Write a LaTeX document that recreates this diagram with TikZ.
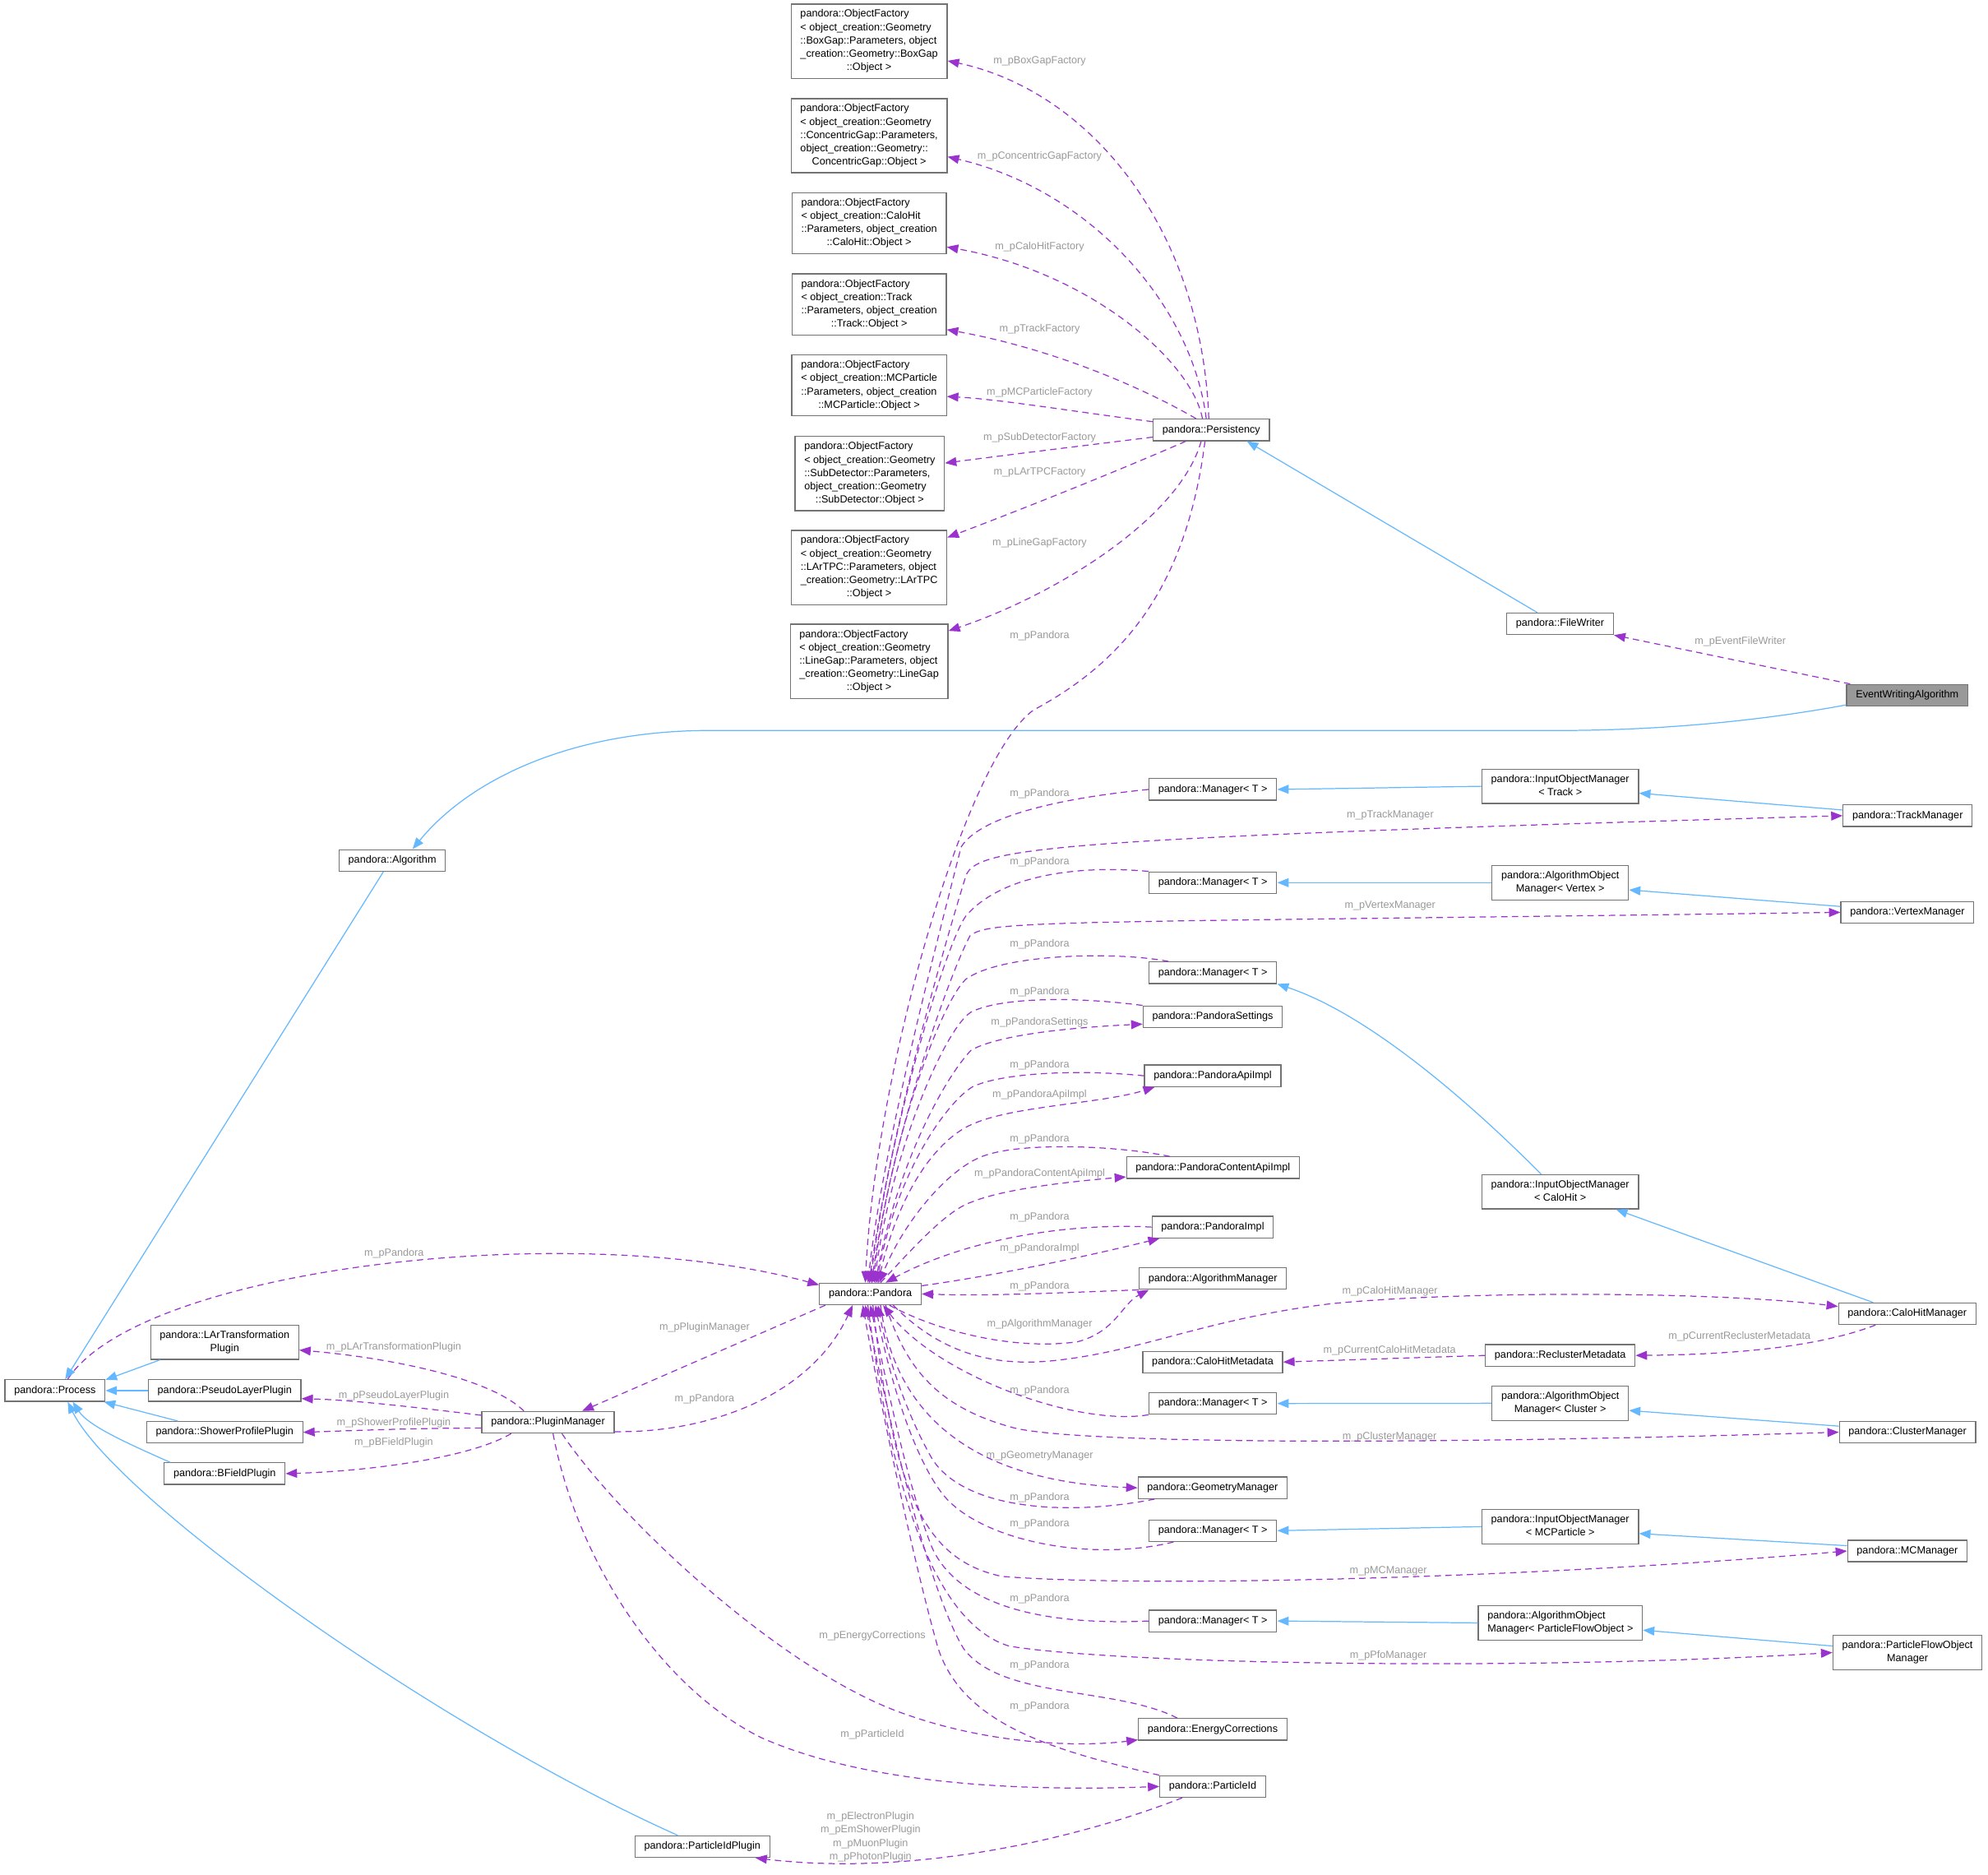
\documentclass[tikz,border=0pt]{standalone}
\usepackage{fontspec}
\setmainfont{Liberation Sans}
\usetikzlibrary{arrows.meta}
\definecolor{memb}{HTML}{9A32CD}
\definecolor{inhr}{HTML}{63B8FF}
\newcommand{\ml}[2]{\begin{tabular}{@{}l@{}}#1\\\multicolumn{1}{@{}c@{}}{#2}\end{tabular}}

\begin{document}
\begin{tikzpicture}[x=1pt,y=-1pt,
    cls/.style={draw=black!55,fill=white,line width=.8pt,font=\fontsize{8.2}{10.5}\selectfont,inner xsep=7.3pt,inner ysep=3pt,minimum height=17pt},
    cur/.style={cls,fill=black!40},
    lbl/.style={font=\fontsize{8.2}{10.5}\selectfont,text=black!40,inner sep=0pt},
    dep/.style={memb,line width=.8pt,dash pattern=on 5pt off 3.5pt,-{Triangle[length=9pt,width=7pt]}},
    inh/.style={inhr,line width=.8pt,-{Triangle[length=9pt,width=7pt]}}]
    \useasboundingbox (0,0) rectangle (1568,1478);

    \node[cls] (fBox)   at (685.5,32.5)  {\ml{pandora::ObjectFactory\\< object\_creation::Geometry\\::BoxGap::Parameters, object\\\_creation::Geometry::BoxGap}{::Object >}};
    \node[cls] (fConc)  at (685.5,107)   {\ml{pandora::ObjectFactory\\< object\_creation::Geometry\\::ConcentricGap::Parameters,\\object\_creation::Geometry::}{ConcentricGap::Object >}};
    \node[cls] (fCalo)  at (685.5,176)   {\ml{pandora::ObjectFactory\\< object\_creation::CaloHit\\::Parameters, object\_creation}{::CaloHit::Object >}};
    \node[cls] (fTrack) at (685.5,240)   {\ml{pandora::ObjectFactory\\< object\_creation::Track\\::Parameters, object\_creation}{::Track::Object >}};
    \node[cls] (fMC)    at (685.5,304)   {\ml{pandora::ObjectFactory\\< object\_creation::MCParticle\\::Parameters, object\_creation}{::MCParticle::Object >}};
    \node[cls] (fSub)   at (686,373.5)   {\ml{pandora::ObjectFactory\\< object\_creation::Geometry\\::SubDetector::Parameters,\\object\_creation::Geometry}{::SubDetector::Object >}};
    \node[cls] (fLAr)   at (685.5,447.5) {\ml{pandora::ObjectFactory\\< object\_creation::Geometry\\::LArTPC::Parameters, object\\\_creation::Geometry::LArTPC}{::Object >}};
    \node[cls] (fLine)  at (685.5,521.5) {\ml{pandora::ObjectFactory\\< object\_creation::Geometry\\::LineGap::Parameters, object\\\_creation::Geometry::LineGap}{::Object >}};

    \node[cls] (pers)   at (955.4,339)    {pandora::Persistency};
    \node[cls] (fw)     at (1230.5,491.9) {pandora::FileWriter};
    \node[cur] (ewa)    at (1504.3,548.2) {EventWritingAlgorithm};
    \node[cls] (alg)    at (309.4,678.5)  {pandora::Algorithm};
    \node[cls] (proc)   at (43.4,1096.5)  {pandora::Process};

    \node[cls] (m1)     at (956.6,622.5)  {pandora::Manager< T >};
    \node[cls] (iomT)   at (1230.6,620)   {\ml{pandora::InputObjectManager}{< Track >}};
    \node[cls] (tm)     at (1504.6,643.2) {pandora::TrackManager};
    \node[cls] (m2)     at (956.6,696)    {pandora::Manager< T >};
    \node[cls] (aomV)   at (1230.6,696)   {\ml{pandora::AlgorithmObject}{Manager< Vertex >}};
    \node[cls] (vm)     at (1504.4,719.4) {pandora::VertexManager};
    \node[cls] (m3)     at (956.6,767)    {pandora::Manager< T >};
    \node[cls] (ps)     at (956.5,801.7)  {pandora::PandoraSettings};
    \node[cls] (pai)    at (956.5,848.3)  {pandora::PandoraApiImpl};
    \node[cls] (pcai)   at (956.7,920.8)  {pandora::PandoraContentApiImpl};
    \node[cls] (pimpl)  at (956.5,967.6)  {pandora::PandoraImpl};
    \node[cls] (am)     at (956.6,1008.2) {pandora::AlgorithmManager};
    \node[cls] (pan)    at (686.5,1020.3) {pandora::Pandora};
    \node[cls] (iomC)   at (1230.6,939.8) {\ml{pandora::InputObjectManager}{< CaloHit >}};
    \node[cls] (chm)    at (1504.3,1035.9) {pandora::CaloHitManager};
    \node[cls] (chmeta) at (956.5,1074)   {pandora::CaloHitMetadata};
    \node[cls] (rm)     at (1230.6,1068.8) {pandora::ReclusterMetadata};
    \node[cls] (m4)     at (956.6,1106.7) {pandora::Manager< T >};
    \node[cls] (aomCl)  at (1230.6,1106.5) {\ml{pandora::AlgorithmObject}{Manager< Cluster >}};
    \node[cls] (clm)    at (1504.5,1129.3) {pandora::ClusterManager};
    \node[cls] (gm)     at (956.4,1173.2) {pandora::GeometryManager};
    \node[cls] (m5)     at (956.6,1207)   {pandora::Manager< T >};
    \node[cls] (iomM)   at (1230.6,1203.8) {\ml{pandora::InputObjectManager}{< MCParticle >}};
    \node[cls] (mcm)    at (1504.4,1223)  {pandora::MCManager};
    \node[cls] (m6)     at (956.6,1278.2) {pandora::Manager< T >};
    \node[cls] (aomP)   at (1230.7,1279.7) {\ml{pandora::AlgorithmObject}{Manager< ParticleFlowObject >}};
    \node[cls] (pfo)    at (1504.5,1303.1) {\ml{pandora::ParticleFlowObject}{Manager}};
    \node[cls] (ec)     at (956.5,1363.6) {pandora::EnergyCorrections};
    \node[cls] (pid)    at (956.5,1408.7) {pandora::ParticleId};
    \node[cls] (pm)     at (432.2,1121.5) {pandora::PluginManager};
    \node[cls] (lart)   at (177.2,1058.4) {\ml{pandora::LArTransformation}{Plugin}};
    \node[cls] (pseudo) at (177.2,1096.5) {pandora::PseudoLayerPlugin};
    \node[cls] (shower) at (177.2,1129.4) {pandora::ShowerProfilePlugin};
    \node[cls] (bfield) at (177.2,1162)   {pandora::BFieldPlugin};
    \node[cls] (pip)    at (554,1456.1)   {pandora::ParticleIdPlugin};

    \node[lbl] (lBoxGap)  at (820,48)      {m\_pBoxGapFactory};
    \node[lbl] (lConcGap) at (820,123.4)   {m\_pConcentricGapFactory};
    \node[lbl] (lCaloF)   at (820,195)     {m\_pCaloHitFactory};
    \node[lbl] (lTrackF)  at (820,259.7)   {m\_pTrackFactory};
    \node[lbl] (lMCF)     at (820,309.7)   {m\_pMCParticleFactory};
    \node[lbl] (lSubF)    at (820,345.4)   {m\_pSubDetectorFactory};
    \node[lbl] (lLArF)    at (820,372.4)   {m\_pLArTPCFactory};
    \node[lbl] (lLineF)   at (820,428.4)   {m\_pLineGapFactory};
    \node[lbl] (lPers)    at (820,501.4)   {m\_pPandora};
    \node[lbl] (lEFW)     at (1372.6,506.1) {m\_pEventFileWriter};
    \node[lbl] (lPanA)    at (820,625.6)   {m\_pPandora};
    \node[lbl] (lTM)      at (1096.5,642.5) {m\_pTrackManager};
    \node[lbl] (lPanB)    at (820,679.8)   {m\_pPandora};
    \node[lbl] (lVM)      at (1096.4,714.5) {m\_pVertexManager};
    \node[lbl] (lPanC)    at (820,744.9)   {m\_pPandora};
    \node[lbl] (lPanD)    at (820,782.5)   {m\_pPandora};
    \node[lbl] (lPS)      at (820,806)     {m\_pPandoraSettings};
    \node[lbl] (lPanE)    at (820,839.7)   {m\_pPandora};
    \node[lbl] (lPAI)     at (820,863)     {m\_pPandoraApiImpl};
    \node[lbl] (lPanF)    at (820,898.3)   {m\_pPandora};
    \node[lbl] (lPCAI)    at (820,925.3)   {m\_pPandoraContentApiImpl};
    \node[lbl] (lPanG)    at (820,960)     {m\_pPandora};
    \node[lbl] (lPI)      at (820,984.3)   {m\_pPandoraImpl};
    \node[lbl] (lPanH)    at (820,1014.6)  {m\_pPandora};
    \node[lbl] (lAM)      at (820,1044.4)  {m\_pAlgorithmManager};
    \node[lbl] (lCHM)     at (1096.3,1018) {m\_pCaloHitManager};
    \node[lbl] (lCCHM)    at (1096,1065.2) {m\_pCurrentCaloHitMetadata};
    \node[lbl] (lCRM)     at (1372,1053.7) {m\_pCurrentReclusterMetadata};
    \node[lbl] (lPanI)    at (820,1096.5)  {m\_pPandora};
    \node[lbl] (lCM)      at (1096,1133)   {m\_pClusterManager};
    \node[lbl] (lGM)      at (820,1148.2)  {m\_pGeometryManager};
    \node[lbl] (lPanJ)    at (820,1180.7)  {m\_pPandora};
    \node[lbl] (lPanK)    at (820,1201.5)  {m\_pPandora};
    \node[lbl] (lMCM)     at (1095,1239)   {m\_pMCManager};
    \node[lbl] (lPanL)    at (820,1261)    {m\_pPandora};
    \node[lbl] (lPfo)     at (1095,1305.5) {m\_pPfoManager};
    \node[lbl] (lEC)      at (688,1289.7)  {m\_pEnergyCorrections};
    \node[lbl] (lPanM)    at (820,1313.2)  {m\_pPandora};
    \node[lbl] (lPanN)    at (820,1345.7)  {m\_pPandora};
    \node[lbl] (lPID)     at (688,1367.5)  {m\_pParticleId};
    \node[lbl,align=center] (lPlugins) at (686.6,1448.5) {m\_pElectronPlugin\\m\_pEmShowerPlugin\\m\_pMuonPlugin\\m\_pPhotonPlugin};
    \node[lbl] (lProcPan) at (310.8,988.6)  {m\_pPandora};
    \node[lbl] (lLArT)    at (310.6,1062.5) {m\_pLArTransformationPlugin};
    \node[lbl] (lPseudo)  at (310.6,1100.4) {m\_pPseudoLayerPlugin};
    \node[lbl] (lShower)  at (310.6,1122)   {m\_pShowerProfilePlugin};
    \node[lbl] (lBField)  at (310.6,1137.5) {m\_pBFieldPlugin};
    \node[lbl] (lPM)      at (555.7,1047)   {m\_pPluginManager};
    \node[lbl] (lPMPan)   at (555.7,1103.2) {m\_pPandora};

    \draw[dep] ([xshift=-2]pers.north) .. controls (948,180) and (860,72) .. (fBox.-14);
    \draw[dep] ([xshift=-4]pers.north) .. controls (940,240) and (860,150) .. (fConc.-15);
    \draw[dep] ([xshift=-7]pers.north) .. controls (940,285) and (860,215) .. (fCalo.-17);
    \draw[dep] ([xshift=-12]pers.north) .. controls (900,305) and (830,275) .. (fTrack.-18);
    \draw[dep] (pers.172) .. controls (850,325) and (790,315) .. (fMC.-8);
    \draw[dep] (pers.187) .. controls (850,352) and (800,358) .. (fSub.8);
    \draw[dep] ([xshift=-20]pers.south) .. controls (880,372) and (810,400) .. (fLAr.21);
    \draw[dep] ([xshift=-8]pers.south) .. controls (930,410) and (830,470) .. (fLine.21);
    \draw[dep] ([xshift=-5]pers.south) .. controls (935,470) and (880,525) .. (815,560) .. controls (760,600) and (690,850) .. ([xshift=-4]pan.north);
    \draw[dep] ([xshift=-45]ewa.north) -- (fw.south east);

    \draw[dep] (m1.west) .. controls (830,630) and (772,645) .. (758,668) .. controls (740,740) and (697,900) .. ([xshift=-2]pan.north);
    \draw[dep] ([xshift=-1]pan.north) .. controls (700,900) and (745,745) .. (762,690) .. controls (772,668) and (830,661) .. (tm.west);
    \draw[dep] (m2.north west) .. controls (850,682) and (790,690) .. (762,722) .. controls (745,745) and (700,900) .. (pan.north);
    \draw[dep] ([xshift=1]pan.north) .. controls (702,900) and (748,770) .. (765,738) .. controls (780,725) and (830,728) .. (vm.west);
    \draw[dep] ([xshift=-35]m3.north) .. controls (880,750) and (790,752) .. (762,772) .. controls (742,790) and (702,900) .. ([xshift=2]pan.north);
    \draw[dep] (ps.north west) .. controls (850,786) and (790,786) .. (766,798) .. controls (746,810) and (704,905) .. ([xshift=3]pan.north);
    \draw[dep] ([xshift=4]pan.north) .. controls (706,920) and (745,850) .. (766,828) .. controls (790,815) and (850,810) .. (ps.186);
    \draw[dep] (pai.west) .. controls (850,843) and (790,846) .. (767,857) .. controls (746,870) and (707,925) .. ([xshift=5]pan.north);
    \draw[dep] ([xshift=6]pan.north) .. controls (710,930) and (745,895) .. (768,886) .. controls (800,872) and (870,870) .. (pai.191);
    \draw[dep] ([xshift=-34]pcai.north) .. controls (880,903) and (800,900) .. (772,913) .. controls (745,925) and (712,965) .. ([xshift=7]pan.north);
    \draw[dep] ([xshift=8]pan.north) .. controls (715,990) and (745,955) .. (766,948) .. controls (790,938) and (840,932) .. (pcai.186);
    \draw[dep] (pimpl.west) .. controls (840,964) and (760,978) .. ([xshift=12]pan.north);
    \draw[dep] (pan.9) .. controls (790,1005) and (860,990) .. (pimpl.192);
    \draw[dep] (am.south west) .. controls (820,1020) and (780,1022) .. (pan.east);
    \draw[dep] ([xshift=15]pan.south) .. controls (740,1050) and (800,1065) .. (850,1058) .. controls (880,1050) and (885,1028) .. (am.190);
    \draw[dep] ([xshift=18]pan.south) .. controls (740,1065) and (780,1078) .. (830,1073) .. controls (900,1066) and (950,1040) .. (1050,1028) .. controls (1150,1018) and (1350,1018) .. (chm.174);
    \draw[dep] (rm.west) -- (chmeta.east);
    \draw[dep] ([xshift=-25]chm.south) .. controls (1440,1060) and (1380,1068) .. (rm.east);
    \draw[dep] (m4.south west) .. controls (850,1125) and (740,1085) .. ([xshift=10]pan.south);
    \draw[dep] ([xshift=12]pan.south) .. controls (715,1080) and (740,1110) .. (800,1126) .. controls (850,1138) and (1100,1140) .. (clm.west);
    \draw[dep] ([xshift=8]pan.south) .. controls (705,1110) and (760,1168) .. (gm.west);
    \draw[dep] (gm.191) .. controls (840,1196) and (760,1190) .. (735,1150) .. controls (715,1115) and (700,1070) .. ([xshift=6]pan.south);
    \draw[dep] ([xshift=-31]m5.south) .. controls (860,1232) and (775,1215) .. (745,1180) .. controls (720,1150) and (700,1080) .. ([xshift=4]pan.south);
    \draw[dep] ([xshift=2]pan.south) .. controls (705,1180) and (730,1230) .. (790,1243) .. controls (900,1252) and (1200,1245) .. (mcm.west);
    \draw[dep] (m6.west) .. controls (820,1282) and (755,1265) .. (735,1220) .. controls (715,1170) and (697,1080) .. (pan.south);
    \draw[dep] ([xshift=-2]pan.south) .. controls (700,1150) and (730,1278) .. (796,1298) .. controls (880,1312) and (1200,1318) .. (pfo.west);
    \draw[dep] ([xshift=-28]ec.north) .. controls (880,1330) and (790,1340) .. (760,1300) .. controls (730,1250) and (697,1100) .. ([xshift=-4]pan.south);
    \draw[dep] (pid.north west) .. controls (830,1380) and (760,1360) .. (740,1300) .. controls (720,1230) and (693,1100) .. ([xshift=-6]pan.south);
    \draw[dep] ([xshift=11]pm.south) .. controls (490,1200) and (620,1320) .. (715,1352) .. controls (780,1375) and (850,1378) .. (ec.188);
    \draw[dep] ([xshift=4]pm.south) .. controls (455,1230) and (520,1330) .. (600,1370) .. controls (690,1410) and (820,1412) .. (pid.west);
    \draw[dep] ([xshift=-24]pid.south) .. controls (850,1450) and (720,1480) .. (pip.-12);
    \draw[dep] ([xshift=10]proc.north) .. controls (110,1000) and (450,960) .. (pan.170);
    \draw[dep] ([xshift=5]pan.south west) -- ([xshift=27]pm.north);
    \draw[dep] (pm.-8) .. controls (560,1130) and (640,1100) .. ([xshift=-14]pan.south);
    \draw[dep] ([xshift=-19]pm.north) .. controls (385,1085) and (300,1070) .. (lart.-6);
    \draw[dep] (pm.174) .. controls (330,1110) and (280,1104) .. (pseudo.-6);
    \draw[dep] (pm.185) .. controls (330,1126) and (280,1128) .. (shower.east);
    \draw[dep] ([xshift=-29]pm.south) .. controls (370,1150) and (290,1160) .. (bfield.east);

    \draw[inh] ([xshift=-18]fw.north) -- ([xshift=28]pers.south);
    \draw[inh] (ewa.189) .. controls (1380,570) and (1300,576) .. (1230,576) -- (560,576) .. controls (450,576) and (370,615) .. ([xshift=16]alg.north);
    \draw[inh] ([xshift=-7]alg.south) -- ([xshift=8]proc.north);
    \draw[inh] (iomT.west) -- (m1.east);
    \draw[inh] (tm.175) -- (iomT.-5);
    \draw[inh] (aomV.west) -- (m2.east);
    \draw[inh] (vm.175) -- (aomV.-6);
    \draw[inh] ([xshift=-15]iomC.north) .. controls (1160,870) and (1080,800) .. (m3.south east);
    \draw[inh] ([xshift=-27]chm.north) -- ([xshift=44]iomC.south);
    \draw[inh] (aomCl.west) -- (m4.east);
    \draw[inh] (clm.175) -- (aomCl.-6);
    \draw[inh] (iomM.west) -- (m5.east);
    \draw[inh] (mcm.175) -- (iomM.-5);
    \draw[inh] (aomP.west) -- (m6.east);
    \draw[inh] (pfo.175) -- (aomP.-5);
    \draw[inh] ([xshift=-51]lart.south) -- (proc.12);
    \draw[inh] (pseudo.west) -- (proc.east);
    \draw[inh] ([xshift=-37]shower.north) -- (proc.-13);
    \draw[inh] ([xshift=-43]bfield.north) .. controls (105,1140) and (70,1125) .. ([xshift=14]proc.south);
    \draw[inh] ([xshift=-19.5]pip.north) .. controls (340,1360) and (90,1180) .. ([xshift=10]proc.south);
\end{tikzpicture}
\end{document}
